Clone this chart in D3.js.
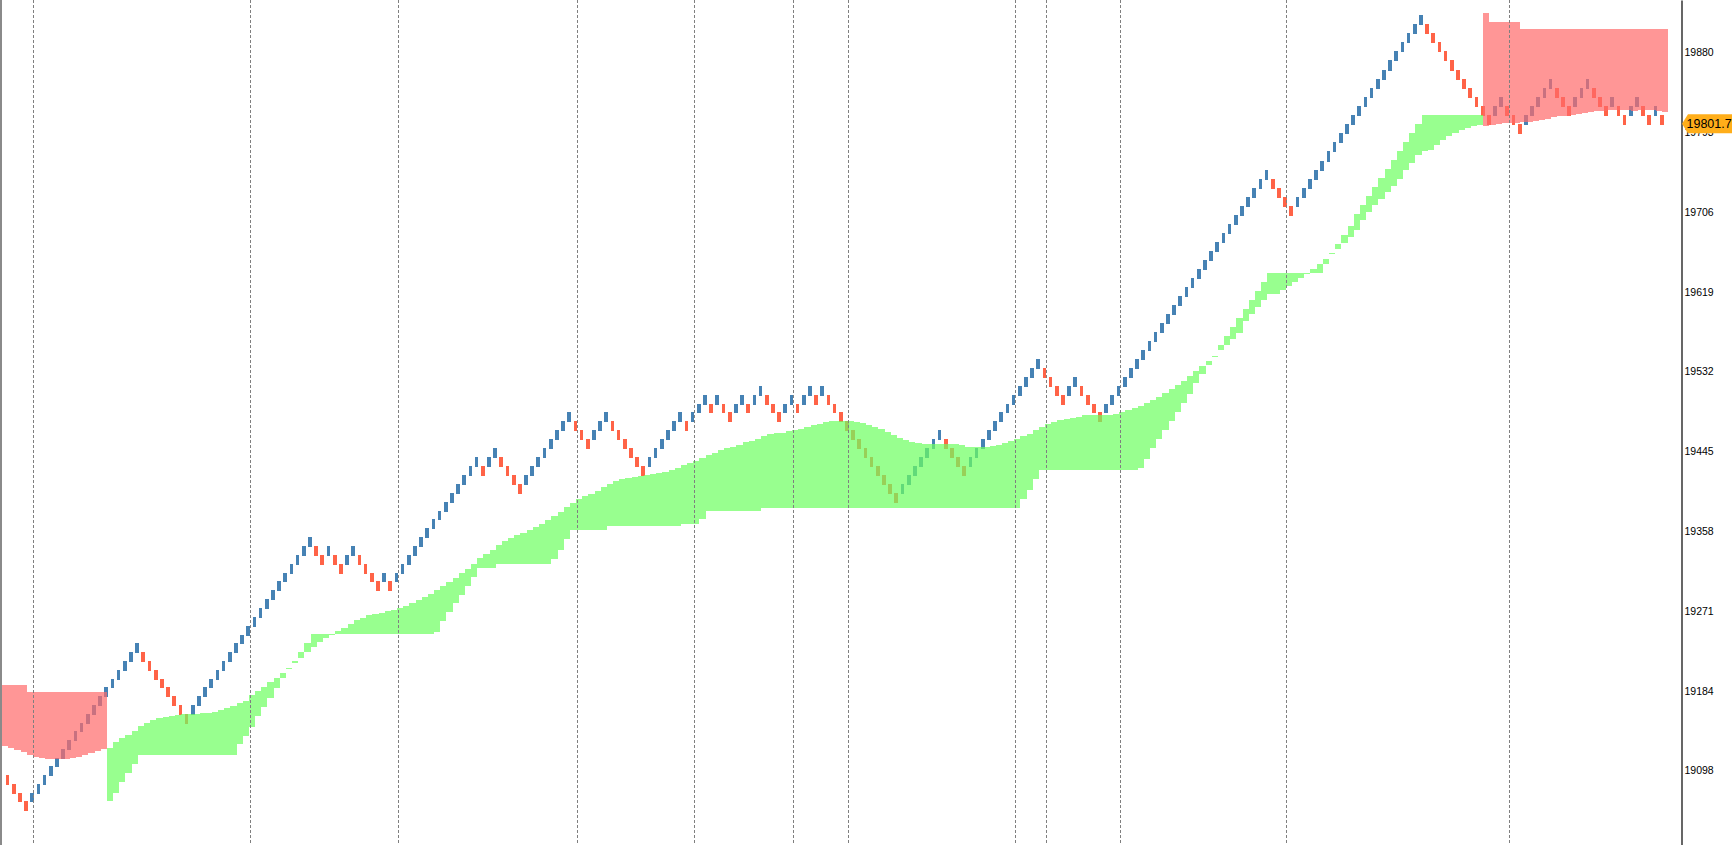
<!DOCTYPE html>
<html><head><meta charset="utf-8">
<script src="https://cdn.jsdelivr.net/npm/d3@7"></script>
<style>html,body{margin:0;padding:0;background:#fff;overflow:hidden}svg{display:block}</style>
</head><body>
<script>
// ---------------- DATA ----------------
const priceTicks = [19880,19793,19706,19619,19532,19445,19358,19271,19184,19098];
const lastPrice = 19801.77;
const separatorBars = [4,39,63,92,111,127,136,163,168,180,207,243];

// price of each brick level boundary, level -4 .. 85
const levelBase = -4;
const levelPrice = [19054.8,19064.6,19073.3,19082.8,19092.6,19102.4,19110.8,19120.9,19130.7,19140.5,
 19149.2,19159.0,19168.8,19178.6,19188.4,19197.1,19206.9,19216.7,19226.5,19236.4,
 19245.1,19254.9,19264.7,19274.5,19284.3,19294.1,19303.9,19312.6,19322.4,19332.2,
 19342.0,19351.8,19361.6,19371.4,19380.1,19389.9,19399.7,19409.5,19419.3,19429.1,
 19438.9,19448.7,19458.5,19468.3,19478.1,19487.9,19496.6,19506.4,19516.2,19526.0,
 19535.9,19545.7,19555.5,19565.3,19575.1,19584.9,19594.7,19604.5,19614.3,19624.1,
 19633.9,19643.7,19653.5,19663.3,19673.1,19682.9,19692.7,19702.5,19712.3,19722.1,
 19731.9,19741.7,19751.5,19761.3,19772.2,19782.0,19791.8,19801.6,19811.4,19821.2,
 19831.0,19840.8,19850.6,19860.4,19871.3,19881.1,19890.9,19900.7,19910.5,19920.3];

// level (top) of each brick, one per bar
const brickLevel = [0,-1,-2,-3,-2,-1,0,1,2,3,4,5,6,7,8,9,10,11,12,13,14,15,
 14,13,12,11,10,9,8,7,
 8,9,10,11,12,13,14,15,16,17,18,19,20,21,22,23,24,25,26,27,
 26,25,26,25,24,25,26,25,24,23,22,23,22,
 23,24,25,26,27,28,29,30,31,32,33,34,35,36,
 35,36,37,36,35,34,33,
 34,35,36,37,38,39,40,41,
 40,39,38,39,40,41,40,39,38,37,36,35,36,37,38,39,40,41,40,
 41,42,43,42,43,42,41,42,43,42,43,44,43,42,41,42,43,42,43,44,43,44,
 43,42,41,40,39,38,37,36,35,34,33,32,
 33,34,35,36,37,38,39,38,37,36,35,
 36,37,38,39,40,41,42,43,44,45,46,47,
 46,45,44,43,44,45,44,43,42,41,
 42,43,44,45,46,47,48,49,50,51,52,53,54,55,56,57,58,59,60,61,62,63,64,65,66,67,68,
 67,66,65,64,
 65,66,67,68,69,70,71,72,73,74,75,76,77,78,79,80,81,82,83,84,85,
 84,83,82,81,80,79,78,77,76,75,74,
 75,76,75,74,73,74,75,76,77,78,77,76,75,76,77,78,77,76,75,76,75,74,75,76,75,74,75,74];
const firstBrickUp = false;

// red band on the left (bars -1 .. 15)
const red1Start = -1;
const red1Top = [19190.6,19190.6,19190.6,19190.6,19183.0,19183.0,19183.0,19183.0,19183.0,19183.0,19183.0,19183.0,19183.0,19183.0,19183.0,19183.0,19183.0];
const red1Bottom = [19124.5,19122.3,19120.1,19118.0,19114.7,19112.5,19111.4,19110.3,19109.7,19109.7,19110.3,19111.4,19112.5,19114.7,19116.9,19119.1,19121.2];

// green band (bars 16 .. 238)
const greenStart = 16;
const greenTop = [19122.3,19128.9,19133.2,19136.5,19140.8,19146.3,19149.5,19152.5,19154.7,19155.8,
 19156.8,19157.9,19158.7,19159.0,19159.4,19160.1,19160.4,19161.5,19163.7,19165.9,
 19168.1,19171.3,19173.5,19180.0,19183.7,19188.4,19193.5,19198.6,19204.0,19209.4,
 19216.7,19226.5,19236.3,19246.2,19246.2,19246.2,19246.2,19249.4,19252.7,19257.0,
 19261.4,19263.6,19266.8,19267.9,19269.0,19271.2,19272.3,19274.5,19276.6,19279.9,
 19283.2,19286.4,19289.7,19294.1,19298.4,19302.8,19307.1,19312.6,19316.9,19322.4,
 19328.9,19333.3,19337.6,19343.1,19347.4,19350.7,19354.0,19356.1,19359.4,19362.7,
 19366.0,19370.3,19374.7,19379.0,19384.5,19388.8,19393.2,19396.4,19398.6,19401.9,
 19406.2,19409.5,19412.8,19415.0,19416.0,19417.1,19418.2,19419.3,19420.4,19421.5,
 19422.6,19424.8,19426.9,19430.2,19432.4,19434.6,19437.8,19441.1,19443.3,19446.5,
 19448.7,19449.8,19452.0,19455.3,19456.3,19458.5,19461.8,19464.0,19465.1,19465.1,
 19467.2,19468.3,19469.4,19471.6,19473.8,19474.9,19477.0,19478.1,19478.1,19478.1,
 19478.1,19477.0,19475.9,19473.8,19471.6,19469.4,19466.1,19462.9,19459.6,19457.4,
 19455.3,19454.2,19453.1,19453.1,19453.1,19453.1,19453.1,19453.1,19452.0,19449.8,
 19449.8,19449.8,19449.8,19450.9,19452.0,19454.2,19456.3,19458.5,19461.8,19464.0,
 19468.3,19471.6,19474.9,19477.0,19479.2,19480.3,19481.4,19482.5,19484.7,19484.7,
 19484.7,19484.7,19484.7,19485.8,19487.9,19490.1,19492.3,19494.5,19497.7,19501.0,
 19504.3,19508.6,19513.0,19517.3,19521.7,19527.1,19532.6,19538.0,19543.5,19548.9,
 19560.9,19570.7,19580.5,19590.3,19600.1,19609.9,19619.7,19629.5,19639.3,19639.3,
 19639.3,19639.3,19639.3,19639.3,19639.3,19643.7,19649.1,19654.6,19661.1,19670.9,
 19680.7,19690.5,19703.6,19713.4,19723.2,19733.0,19742.8,19752.6,19762.4,19772.2,
 19782.0,19791.8,19801.6,19811.4,19811.4,19811.4,19811.4,19811.4,19811.4,19811.4,
 19811.4,19811.4,19811.4];
const greenBottom = [19064.6,19073.3,19085.3,19095.1,19104.9,19114.7,19114.7,19114.7,19114.7,19114.7,
 19114.7,19114.7,19114.7,19114.7,19114.7,19114.7,19114.7,19114.7,19114.7,19114.7,
 19114.7,19126.7,19135.4,19145.2,19157.2,19167.0,19176.8,19187.3,19198.6,19208.0,
 19214.6,19220.3,19226.5,19232.0,19237.4,19241.8,19245.1,19246.2,19246.2,19246.2,
 19246.2,19246.2,19246.2,19246.2,19246.2,19246.2,19246.2,19246.2,19246.2,19246.2,
 19246.2,19246.2,19246.2,19248.3,19260.3,19270.1,19279.9,19288.6,19298.4,19308.2,
 19318.0,19318.0,19318.0,19322.4,19322.4,19322.4,19322.4,19322.4,19322.4,19322.4,
 19322.4,19322.4,19327.8,19337.6,19349.6,19359.4,19359.4,19359.4,19359.4,19359.4,
 19359.4,19363.8,19363.8,19363.8,19363.8,19363.8,19363.8,19363.8,19363.8,19363.8,
 19363.8,19363.8,19363.8,19366.0,19366.0,19366.0,19371.4,19380.1,19380.1,19380.1,
 19380.1,19380.1,19380.1,19380.1,19380.1,19380.1,19383.4,19383.4,19383.4,19383.4,
 19383.4,19383.4,19383.4,19383.4,19383.4,19383.4,19383.4,19383.4,19383.4,19383.4,
 19383.4,19383.4,19383.4,19383.4,19383.4,19383.4,19383.4,19383.4,19383.4,19383.4,
 19383.4,19383.4,19383.4,19383.4,19383.4,19383.4,19383.4,19383.4,19383.4,19383.4,
 19383.4,19383.4,19383.4,19383.4,19383.4,19383.4,19383.4,19383.4,19393.2,19403.0,
 19415.0,19424.8,19424.8,19424.8,19424.8,19424.8,19424.8,19424.8,19424.8,19424.8,
 19424.8,19424.8,19424.8,19424.8,19424.8,19424.8,19424.8,19426.9,19436.7,19448.7,
 19458.5,19468.3,19478.1,19487.9,19497.7,19507.5,19519.5,19529.3,19539.1,19547.8,
 19555.5,19560.9,19567.4,19574.0,19587.0,19594.7,19602.3,19609.9,19616.4,19616.4,
 19620.8,19625.2,19629.5,19633.9,19638.2,19639.3,19639.3,19649.1,19660.0,19665.5,
 19672.0,19678.5,19686.1,19697.0,19705.7,19713.4,19719.9,19727.5,19734.1,19741.7,
 19751.5,19759.1,19767.8,19772.2,19773.3,19778.7,19784.2,19788.5,19791.8,19795.1,
 19797.2,19799.4,19800.5];

// red band on the right (bars 239 .. 268)
const red2Start = 239;
const red2Top = [19922.5,19912.7,19912.7,19912.7,19912.7,19912.7,
 19905.0,19905.0,19905.0,19905.0,19905.0,19905.0,19905.0,19905.0,19905.0,19905.0,19905.0,19905.0,
 19905.0,19905.0,19905.0,19905.0,19905.0,19905.0,19905.0,19905.0,19905.0,19905.0,19905.0,19905.0];
const red2Bottom = [19799.4,19800.5,19801.6,19802.7,19802.7,19802.7,19803.8,19803.8,19804.9,19805.9,
 19807.0,19809.2,19810.3,19810.3,19811.4,19812.5,19813.6,19814.7,19815.7,19815.7,
 19816.8,19816.8,19816.8,19816.8,19815.7,19816.8,19816.8,19816.8,19815.7,19814.7];

// ---------------- DRAWING ----------------
const W = 1732, H = 845;
const axisX = 1681;
const nBars = brickLevel.length;

const x = d3.scaleLinear().domain([0, nBars - 1]).range([7.5, 1661.6]);
const y = d3.scaleLinear().domain([19016.4, 19936.63]).range([H, 0]);
const lp = k => levelPrice[k - levelBase];

const svg = d3.select("body").append("svg").attr("width", W).attr("height", H);
svg.append("rect").attr("width", W).attr("height", H).attr("fill", "#ffffff");

svg.append("clipPath").attr("id", "plot")
  .append("rect").attr("x", 2).attr("y", 0).attr("width", axisX - 2).attr("height", H);
const plot = svg.append("g").attr("clip-path", "url(#plot)");

// bricks
const bricks = brickLevel.map((lv, i) => ({
  i, lv,
  up: i === 0 ? firstBrickUp : lv > brickLevel[i - 1]
}));
plot.append("g").attr("shape-rendering", "crispEdges")
  .selectAll("rect").data(bricks).join("rect")
  .attr("x", d => x(d.i) - 1.8)
  .attr("width", 3.7)
  .attr("y", d => y(lp(d.lv)))
  .attr("height", d => y(lp(d.lv - 1)) - y(lp(d.lv)) + 1)
  .attr("fill", d => d.up ? "#4682b4" : "#ff6347");

// bands
const bandOffset = 0.7;
function bandPoints(start, top, bottom) {
  const pts = top.map((t, k) => ({ xx: x(start + k) + bandOffset, t, b: bottom[k] }));
  const last = pts[pts.length - 1];
  pts.push({ xx: x(start + top.length) + bandOffset, t: last.t, b: last.b });
  return pts;
}
const area = d3.area().x(d => d.xx).y0(d => y(d.b)).y1(d => y(d.t)).curve(d3.curveStepAfter);
const bands = [
  { pts: bandPoints(red1Start, red1Top, red1Bottom), color: "rgb(255,105,105)" },
  { pts: bandPoints(greenStart, greenTop, greenBottom), color: "rgb(108,255,96)" },
  { pts: bandPoints(red2Start, red2Top, red2Bottom), color: "rgb(255,105,105)" }
];
plot.append("g").attr("shape-rendering", "crispEdges")
  .selectAll("path").data(bands).join("path")
  .attr("d", d => area(d.pts))
  .attr("fill", d => d.color)
  .attr("fill-opacity", 0.7);

// period separators
plot.append("g").selectAll("line").data(separatorBars).join("line")
  .attr("x1", d => Math.round(x(d) + 1.3) + 0.5).attr("x2", d => Math.round(x(d) + 1.3) + 0.5)
  .attr("y1", 0).attr("y2", H)
  .attr("stroke", "#7f7f7f").attr("stroke-width", 1).attr("stroke-dasharray", "3,2");

// left border
svg.append("rect").attr("x", 0).attr("y", 0).attr("width", 2).attr("height", H).attr("fill", "#8a8a8a");

// price axis
const axis = d3.axisRight(y).tickValues(priceTicks).tickSize(0).tickPadding(3).tickFormat(d3.format("d"));
const ag = svg.append("g").attr("transform", `translate(${axisX + 0.5},0)`).call(axis);
ag.select(".domain").attr("stroke", "#000").attr("stroke-width", 1.2);
ag.selectAll("text").attr("font-family", "'Liberation Sans', Arial, sans-serif")
  .attr("font-size", "10.5px").attr("fill", "#000");

// current price label
const ly = y(lastPrice);
const lab = svg.append("g");
lab.append("path")
  .attr("d", `M${axisX + 1},${ly} L${axisX + 7},${ly - 9.5} L${W + 5},${ly - 9.5} L${W + 5},${ly + 9.5} L${axisX + 7},${ly + 9.5} Z`)
  .attr("fill", "#ffae1a");
lab.append("text").attr("x", axisX + 5.5).attr("y", ly).attr("dy", "0.36em")
  .attr("font-family", "'Liberation Sans', Arial, sans-serif").attr("font-size", "12.5px")
  .attr("fill", "#000").text(d3.format(".2f")(lastPrice));
</script>
</body></html>
